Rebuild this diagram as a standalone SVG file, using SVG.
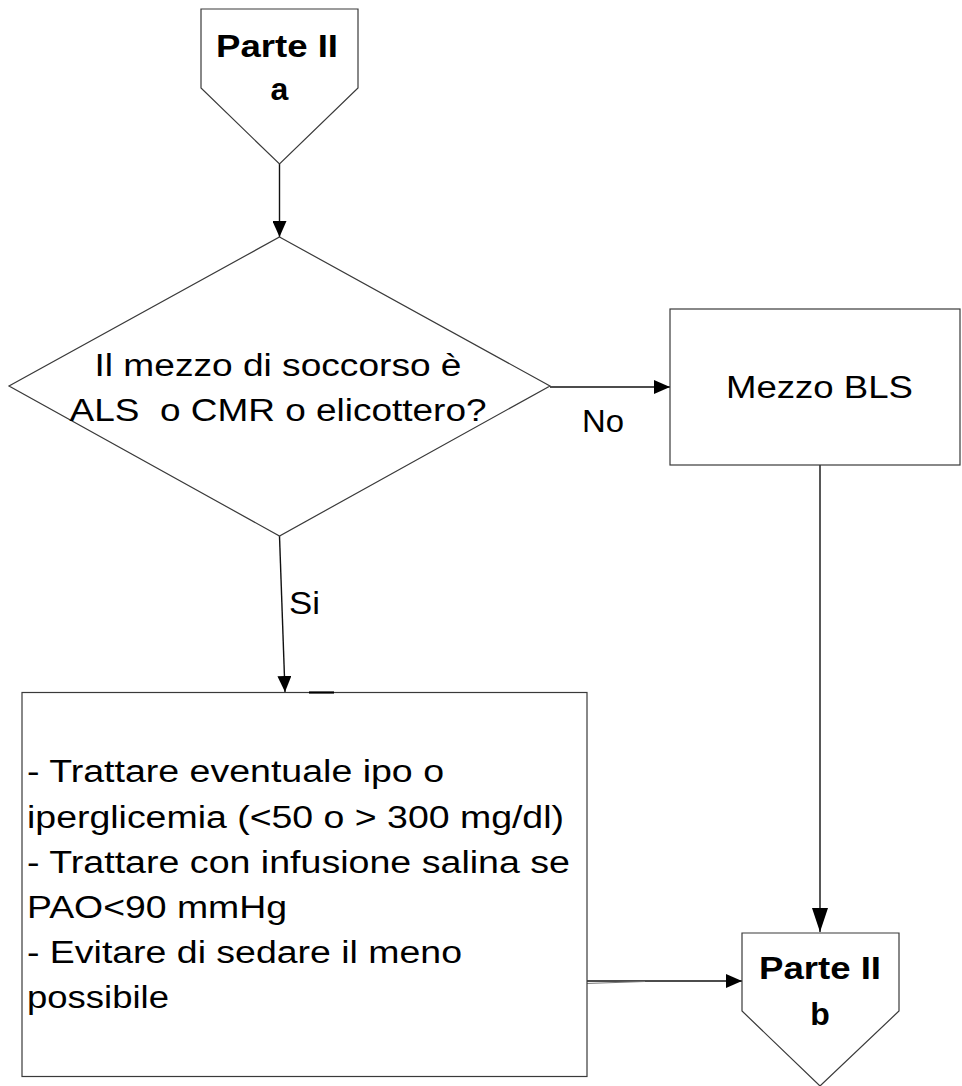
<svg xmlns="http://www.w3.org/2000/svg" width="962" height="1086" viewBox="0 0 962 1086">
  <style>
    .shape { fill: #ffffff; stroke: #3a3a3a; stroke-width: 1.2; }
    .edge { fill: none; stroke: #111111; stroke-width: 1.4; }
    .txt { font-family: "Liberation Sans", Arial, sans-serif; font-size: 31px; fill: #000000; white-space: pre; }
    .bold { font-family: "Liberation Sans", Arial, sans-serif; font-size: 32px; font-weight: bold; fill: #000000; }
  </style>
  <defs>
    <marker id="arrow" markerUnits="userSpaceOnUse" markerWidth="16" markerHeight="14" refX="16" refY="7" orient="auto">
      <path d="M0,0 L16,7 L0,14 Z" fill="#000000"/>
    </marker>
    <marker id="arrowLong" markerUnits="userSpaceOnUse" markerWidth="24" markerHeight="16" refX="24" refY="8" orient="auto">
      <path d="M0,0 L24,8 L0,16 Z" fill="#000000"/>
    </marker>
  </defs>

  <rect width="962" height="1086" fill="#ffffff"/>

  <!-- connectors -->
  <g id="connectors">
    <line class="edge" x1="279.5" y1="164" x2="279.5" y2="237" marker-end="url(#arrow)"/>
    <line class="edge" x1="550" y1="387" x2="670" y2="387" marker-end="url(#arrow)"/>
    <line class="edge" x1="279.5" y1="536" x2="285" y2="692" marker-end="url(#arrow)"/>
    <line class="edge" x1="820" y1="465" x2="820" y2="932" marker-end="url(#arrowLong)"/>
    <line class="edge" x1="586" y1="981" x2="742" y2="981" marker-end="url(#arrow)"/>
    <line x1="586" y1="983.5" x2="645" y2="981.5" stroke="#777777" stroke-width="1"/>
    <text class="txt" x="582" y="432" textLength="42" lengthAdjust="spacingAndGlyphs">No</text>
    <text class="txt" x="289" y="614" textLength="31" lengthAdjust="spacingAndGlyphs">Si</text>
  </g>

  <!-- off-page connector: start -->
  <g id="parte-a">
    <polygon class="shape" points="201,9 358,9 358,88 279.5,164 201,88"/>
    <text class="bold" x="216" y="57" textLength="122" lengthAdjust="spacingAndGlyphs">Parte II</text>
    <text class="bold" x="279.5" y="100" text-anchor="middle">a</text>
  </g>

  <!-- decision -->
  <g id="decision">
    <polygon class="shape" points="279.5,237 550,386 279.5,536 9,386"/>
    <text class="txt" x="94.5" y="376" textLength="367" lengthAdjust="spacingAndGlyphs">Il mezzo di soccorso è</text>
    <text class="txt" x="69.5" y="421" textLength="417" lengthAdjust="spacingAndGlyphs">ALS  o CMR o elicottero?</text>
  </g>

  <!-- BLS branch -->
  <g id="mezzo-bls">
    <rect class="shape" x="670" y="309" width="290" height="156"/>
    <text class="txt" x="726" y="398" textLength="187" lengthAdjust="spacingAndGlyphs">Mezzo BLS</text>
  </g>

  <!-- ALS branch actions -->
  <g id="azioni">
    <rect class="shape" x="22" y="692.5" width="565" height="384"/>
    <line x1="309" y1="692.5" x2="334" y2="692.5" stroke="#000000" stroke-width="2.2"/>
    <text class="txt" x="27" y="782" textLength="417" lengthAdjust="spacingAndGlyphs">- Trattare eventuale ipo o</text>
    <text class="txt" x="27" y="827.5" textLength="537" lengthAdjust="spacingAndGlyphs">iperglicemia (&lt;50 o &gt; 300 mg/dl)</text>
    <text class="txt" x="27" y="873" textLength="543" lengthAdjust="spacingAndGlyphs">- Trattare con infusione salina se</text>
    <text class="txt" x="27" y="918" textLength="260" lengthAdjust="spacingAndGlyphs">PAO&lt;90 mmHg</text>
    <text class="txt" x="27" y="963" textLength="435" lengthAdjust="spacingAndGlyphs">- Evitare di sedare il meno</text>
    <text class="txt" x="27" y="1008" textLength="142" lengthAdjust="spacingAndGlyphs">possibile</text>
  </g>

  <!-- off-page connector: continuation -->
  <g id="parte-b">
    <polygon class="shape" points="742,933 899,933 899,1011 820,1086 742,1011"/>
    <text class="bold" x="759" y="979" textLength="122" lengthAdjust="spacingAndGlyphs">Parte II</text>
    <text class="bold" x="820" y="1025" text-anchor="middle">b</text>
  </g>
</svg>
